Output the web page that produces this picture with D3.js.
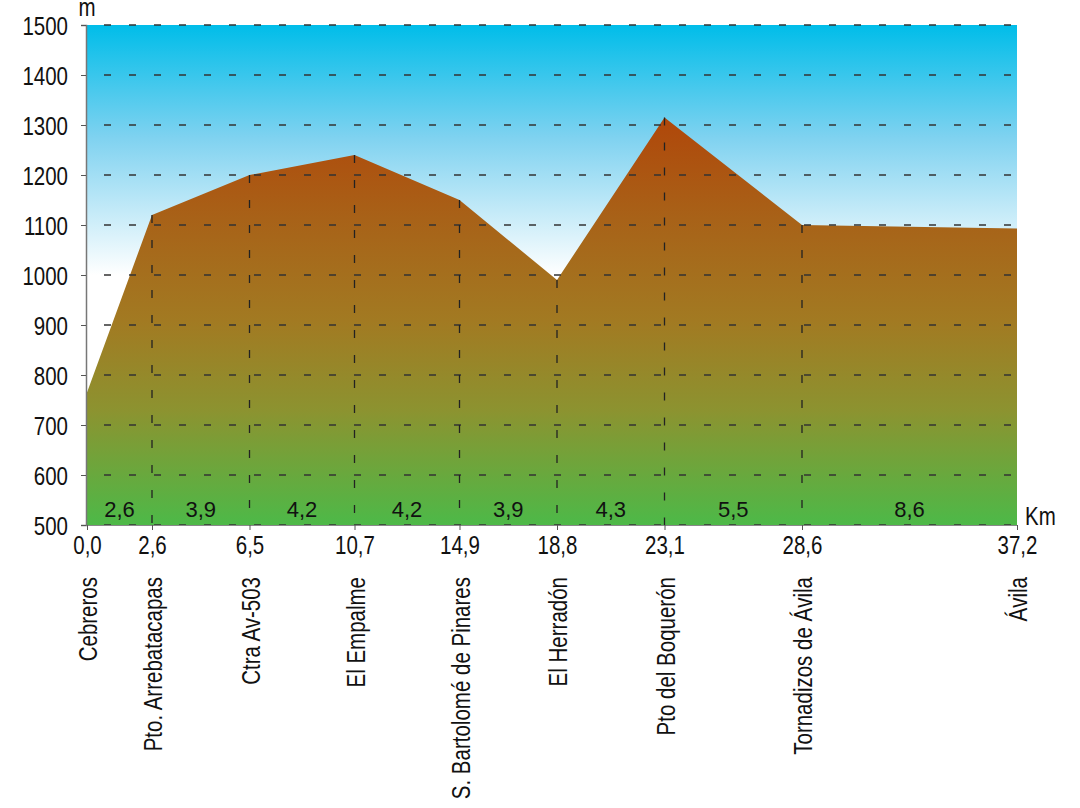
<!DOCTYPE html>
<html>
<head>
<meta charset="utf-8">
<script src="https://cdn.jsdelivr.net/npm/d3@7"></script>
<style>
  body { margin: 0; background: #fff; }
  svg { display: block; }
  .lbl { font-family: "Liberation Sans", Arial, sans-serif; font-size: 25px; fill: #111; }
  .seg { font-family: "Liberation Sans", Arial, sans-serif; font-size: 22px; fill: #111; }
</style>
</head>
<body>
<svg width="1080" height="808"></svg>
<script>
// route profile: km, altitude (m), stop names
let km = [0.0, 2.6, 6.5, 10.7, 14.9, 18.8, 23.1, 28.6, 37.2];
let alt = [765, 1120, 1200, 1240, 1150, 990, 1315, 1100, 1093];
let places = ["Cebreros", "Pto. Arrebatacapas", "Ctra Av-503", "El Empalme",
	"S. Bartolomé de Pinares", "El Herradón", "Pto del Boquerón",
	"Tornadizos de Ávila", "Ávila"];
let segs = [2.6, 3.9, 4.2, 4.2, 3.9, 4.3, 5.5, 8.6];
let yTicks = [500, 600, 700, 800, 900, 1000, 1100, 1200, 1300, 1400, 1500];

let svg = d3.select("svg"),
	pLeft = 86,
	pRight = 1017,
	pTop = 25,
	pBottom = 525,
	narrow = "scale(0.82,1)";   // condensed look, no narrow face installed

let x = d3.scaleLinear().domain([0, 37.2]).range([pLeft + 1, pRight]);
let y = d3.scaleLinear().domain([500, 1500]).range([pBottom, pTop]);
let fmt = v => d3.format(".1f")(v).replace(".", ",");

let defs = svg.append("defs");
let sky = defs.append("linearGradient").attr("id", "sky")
	.attr("gradientUnits", "userSpaceOnUse")
	.attr("x1", 0).attr("y1", y(1500)).attr("x2", 0).attr("y2", y(1000));
sky.append("stop").attr("offset", 0).attr("stop-color", "#00bde9");
sky.append("stop").attr("offset", 0.45).attr("stop-color", "#7fd2f0");
sky.append("stop").attr("offset", 1).attr("stop-color", "#ffffff");

let ground = defs.append("linearGradient").attr("id", "ground")
	.attr("gradientUnits", "userSpaceOnUse")
	.attr("x1", 0).attr("y1", y(1315)).attr("x2", 0).attr("y2", y(500));
ground.append("stop").attr("offset", 0).attr("stop-color", "#b0470a");
ground.append("stop").attr("offset", 0.25).attr("stop-color", "#a86218");
ground.append("stop").attr("offset", 0.5).attr("stop-color", "#a27a22");
ground.append("stop").attr("offset", 0.72).attr("stop-color", "#8c9330");
ground.append("stop").attr("offset", 1).attr("stop-color", "#4db948");

// sky
svg.append("rect")
	.attr("x", pLeft).attr("y", pTop)
	.attr("width", pRight - pLeft).attr("height", pBottom - pTop)
	.attr("fill", "url(#sky)");

// terrain
let pts = km.map((k, i) => [k, alt[i]]);
let area = d3.area()
	.x(d => x(d[0]))
	.y0(y(500))
	.y1(d => y(d[1]));
svg.append("path")
	.datum(pts)
	.attr("d", area)
	.attr("fill", "url(#ground)");

// horizontal grid
svg.append("g").selectAll("line")
	.data(yTicks)
	.enter().append("line")
		.attr("x1", pLeft).attr("x2", pRight)
		.attr("y1", d => y(d)).attr("y2", d => y(d))
		.attr("stroke", "#333")
		.attr("stroke-width", 1.3)
		.attr("stroke-dasharray", "7,18")
		.attr("stroke-dashoffset", -18);

// vertical dashed lines at stops
svg.append("g").selectAll("line")
	.data(pts.slice(1, -1))
	.enter().append("line")
		.attr("x1", d => x(d[0])).attr("x2", d => x(d[0]))
		.attr("y1", d => y(d[1])).attr("y2", pBottom)
		.attr("stroke", "#222")
		.attr("stroke-width", 1.3)
		.attr("stroke-dasharray", "8,17");

// y axis
let yAxis = svg.append("g")
	.attr("transform", `translate(${pLeft},0)`)
	.call(d3.axisLeft(y).tickValues(yTicks).tickSize(5).tickFormat(d3.format("d")));
yAxis.select(".domain").attr("stroke", "#777").attr("stroke-width", 1.5);
yAxis.selectAll(".tick line").attr("stroke", "#555");
yAxis.selectAll(".tick text")
	.attr("class", "lbl")
	.attr("x", 0)
	.attr("dy", "0.36em")
	.attr("transform", `translate(-18,0) ${narrow}`);

// x axis
let xAxis = svg.append("g")
	.attr("transform", `translate(0,${pBottom})`)
	.call(d3.axisBottom(x).tickValues(km).tickSize(5).tickFormat(fmt));
xAxis.select(".domain").attr("stroke", "#888").attr("stroke-width", 1);
xAxis.selectAll(".tick line").attr("stroke", "#555");
xAxis.selectAll(".tick text")
	.attr("class", "lbl")
	.attr("y", 11)
	.attr("dy", "0.71em")
	.attr("transform", narrow);

// place names
svg.append("g").selectAll("text")
	.data(places)
	.enter().append("text")
		.attr("class", "lbl")
		.attr("text-anchor", "end")
		.attr("transform", (d, i) => `translate(${x(km[i]) + 10},577) rotate(-90) ${narrow}`)
		.text(d => d);

// segment distances
svg.append("g").selectAll("text")
	.data(segs)
	.enter().append("text")
		.attr("class", "seg")
		.attr("text-anchor", "middle")
		.attr("x", (d, i) => (x(km[i]) + x(km[i + 1])) / 2)
		.attr("y", 517)
		.text(fmt);

// units
svg.append("text").attr("class", "lbl")
	.attr("text-anchor", "middle")
	.attr("transform", `translate(87,16) ${narrow}`)
	.text("m");
svg.append("text").attr("class", "lbl")
	.attr("transform", `translate(1025,525) ${narrow}`)
	.text("Km");
</script>
</body>
</html>
